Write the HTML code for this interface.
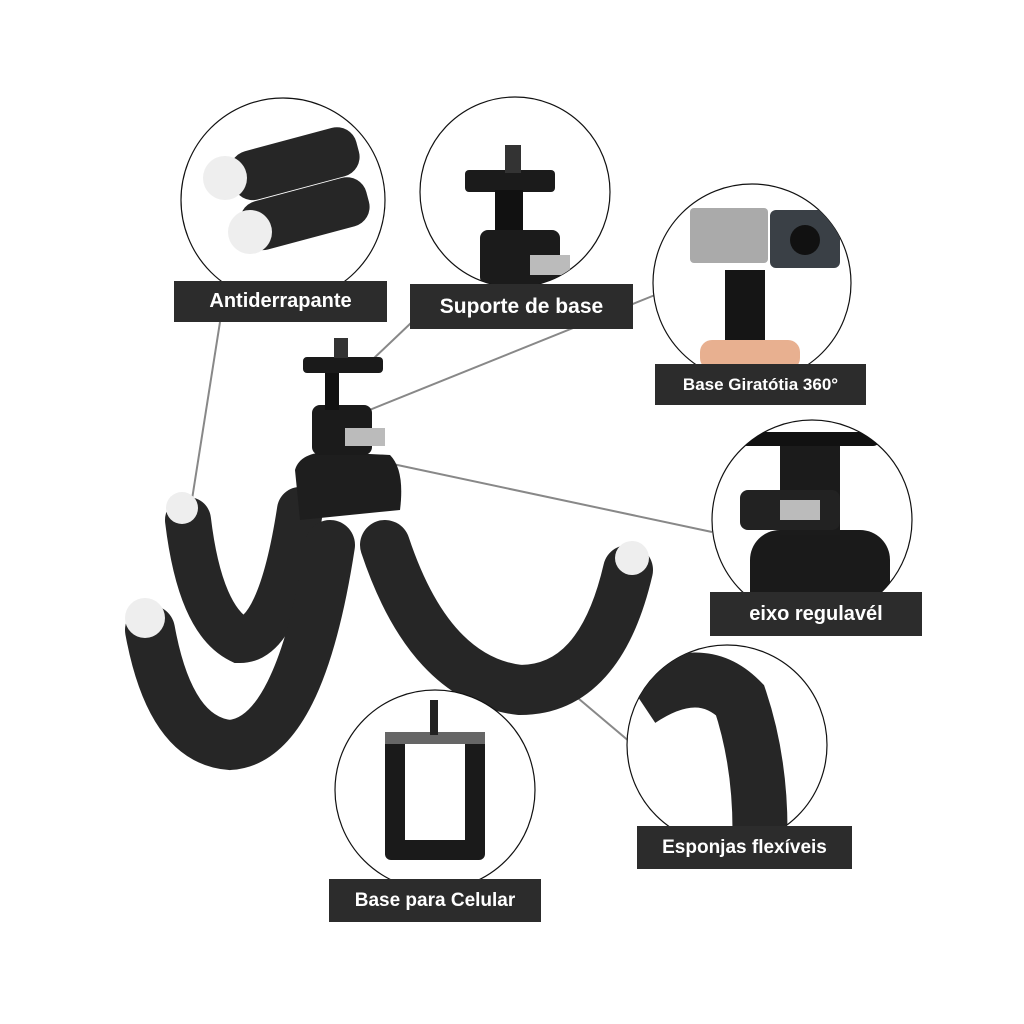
<!DOCTYPE html>
<html><head><meta charset="utf-8"><style>
html,body{margin:0;padding:0;background:#fff;width:1024px;height:1024px;overflow:hidden}
.lbl{position:absolute;background:#2c2c2c;color:#fff;font-family:"Liberation Sans",sans-serif;font-weight:bold;display:flex;align-items:center;justify-content:center;white-space:nowrap}
</style></head><body>
<svg width="1024" height="1024" style="position:absolute;left:0;top:0">
<defs>
<clipPath id="c1"><circle cx="283" cy="200" r="102"/></clipPath>
<clipPath id="c2"><circle cx="515" cy="192" r="95"/></clipPath>
<clipPath id="c3"><circle cx="752" cy="283" r="99"/></clipPath>
<clipPath id="c4"><circle cx="812" cy="520" r="100"/></clipPath>
<clipPath id="c5"><circle cx="727" cy="745" r="100"/></clipPath>
<clipPath id="c6"><circle cx="435" cy="790" r="100"/></clipPath>
</defs>
<g stroke="#888" stroke-width="2" fill="none">
<line x1="220" y1="322" x2="190" y2="512"/>
<line x1="412" y1="322" x2="372" y2="360"/>
<line x1="655" y1="295" x2="357" y2="415"/>
<line x1="388" y1="463" x2="712" y2="532"/>
<line x1="566" y1="688" x2="630" y2="742"/>
</g>
<!-- tripod legs -->
<g fill="none" stroke-linecap="round" stroke="#262626">
<path d="M188 520 Q200 620 240 640 Q280 640 300 510" stroke-width="46"/>
<path d="M150 630 Q170 740 230 745 Q300 740 330 545" stroke-width="50"/>
<path d="M385 545 Q430 680 520 690 Q600 690 628 570" stroke-width="50"/>
</g>
<circle cx="182" cy="508" r="16" fill="#eee"/>
<circle cx="145" cy="618" r="20" fill="#eee"/>
<circle cx="632" cy="558" r="17" fill="#eee"/>
<!-- head -->
<path d="M295 470 Q300 452 330 452 L390 455 Q405 470 400 510 L300 520 Z" fill="#1e1e1e"/>
<rect x="312" y="405" width="60" height="50" rx="8" fill="#1b1b1b"/>
<rect x="345" y="428" width="40" height="18" fill="#bbb"/>
<rect x="325" y="370" width="14" height="40" fill="#111"/>
<rect x="303" y="357" width="80" height="16" rx="4" fill="#1a1a1a"/>
<rect x="334" y="338" width="14" height="20" fill="#333"/>
<!-- circles -->
<g fill="#fff" stroke="#111" stroke-width="1.2">
<circle cx="283" cy="200" r="102"/><circle cx="515" cy="192" r="95"/><circle cx="752" cy="283" r="99"/>
<circle cx="812" cy="520" r="100"/><circle cx="727" cy="745" r="100"/><circle cx="435" cy="790" r="100"/>
</g>
<g clip-path="url(#c1)">
<rect x="230" y="140" width="130" height="50" rx="20" fill="#262626" transform="rotate(-15 290 165)"/>
<rect x="240" y="190" width="130" height="50" rx="20" fill="#262626" transform="rotate(-15 300 215)"/>
<circle cx="225" cy="178" r="22" fill="#eee"/><circle cx="250" cy="232" r="22" fill="#eee"/>
</g>
<g clip-path="url(#c2)">
<rect x="465" y="170" width="90" height="22" rx="4" fill="#1b1b1b"/>
<rect x="505" y="145" width="16" height="28" fill="#333"/>
<rect x="495" y="190" width="28" height="45" fill="#111"/>
<rect x="480" y="230" width="80" height="55" rx="8" fill="#1b1b1b"/>
<rect x="530" y="255" width="40" height="20" fill="#bbb"/>
</g>
<g clip-path="url(#c3)">
<rect x="690" y="208" width="78" height="55" rx="4" fill="#aaa"/>
<rect x="770" y="210" width="70" height="58" rx="6" fill="#3a4046"/>
<circle cx="805" cy="240" r="15" fill="#111"/>
<rect x="725" y="270" width="40" height="85" fill="#151515"/>
<rect x="700" y="340" width="100" height="30" rx="12" fill="#e8b090"/>
</g>
<g clip-path="url(#c4)">
<rect x="750" y="530" width="140" height="100" rx="30" fill="#1a1a1a"/>
<rect x="780" y="445" width="60" height="90" fill="#1b1b1b"/>
<rect x="740" y="490" width="100" height="40" rx="8" fill="#222"/>
<rect x="780" y="500" width="40" height="20" fill="#bbb"/>
<rect x="740" y="432" width="140" height="14" rx="7" fill="#111"/>
</g>
<g clip-path="url(#c5)">
<path d="M640 700 Q700 660 740 700 Q760 760 760 830" fill="none" stroke="#262626" stroke-width="55"/>
</g>
<g clip-path="url(#c6)">
<rect x="385" y="740" width="20" height="110" fill="#1a1a1a"/>
<rect x="465" y="740" width="20" height="110" fill="#1a1a1a"/>
<rect x="385" y="732" width="100" height="12" fill="#666"/>
<rect x="385" y="840" width="100" height="20" rx="6" fill="#1a1a1a"/>
<rect x="430" y="700" width="8" height="35" fill="#222"/>
</g>
</svg>
<div class="lbl" style="left:174px;top:281px;width:213px;height:41px;font-size:20px">Antiderrapante</div>
<div class="lbl" style="left:410px;top:284px;width:223px;height:45px;font-size:21px">Suporte de base</div>
<div class="lbl" style="left:655px;top:364px;width:211px;height:41px;font-size:17px">Base Giratótia 360°</div>
<div class="lbl" style="left:710px;top:592px;width:212px;height:44px;font-size:20px">eixo regulavél</div>
<div class="lbl" style="left:637px;top:826px;width:215px;height:43px;font-size:19px">Esponjas flexíveis</div>
<div class="lbl" style="left:329px;top:879px;width:212px;height:43px;font-size:19px">Base para Celular</div>
</body></html>
